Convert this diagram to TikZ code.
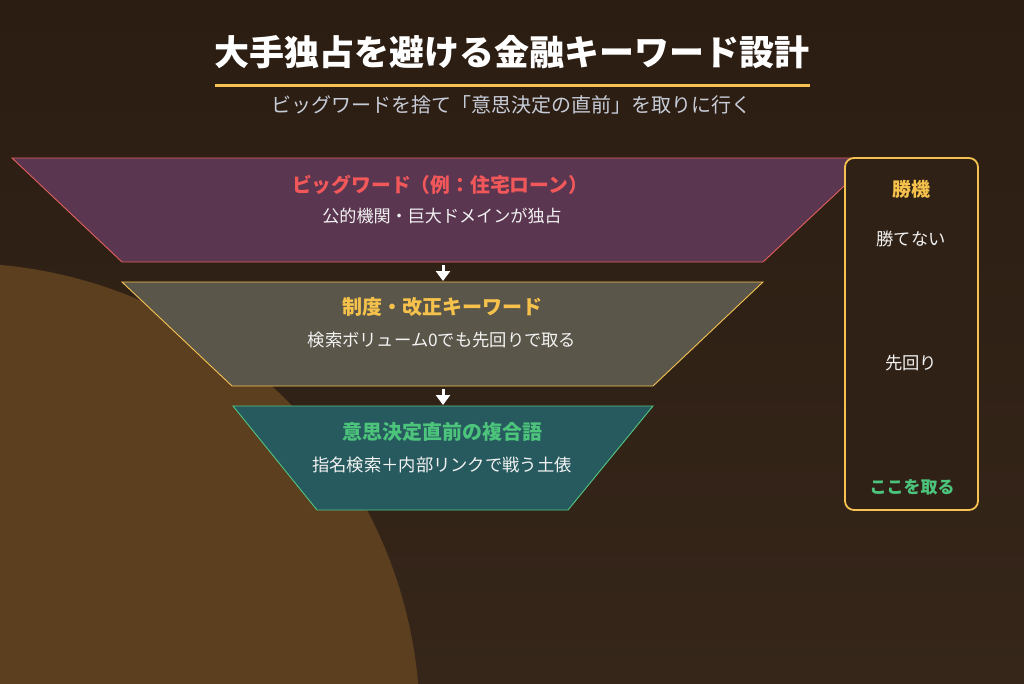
\documentclass[tikz,border=0pt]{standalone}
\usepackage{fontspec}
\setmainfont{Noto Sans CJK JP}
\usetikzlibrary{arrows.meta}
\definecolor{bgtop}{HTML}{2B1D12}
\definecolor{bgbot}{HTML}{36261A}
\definecolor{blob}{HTML}{5C3F1F}
\definecolor{fillA}{HTML}{5A3650}
\definecolor{lineA}{HTML}{E2605C}
\definecolor{fillB}{HTML}{5A564A}
\definecolor{lineB}{HTML}{F5C251}
\definecolor{fillC}{HTML}{275A5E}
\definecolor{lineC}{HTML}{52C482}
\definecolor{txtred}{HTML}{F2585A}
\definecolor{txtorange}{HTML}{F7C24C}
\definecolor{txtgreen}{HTML}{4CC47C}
\definecolor{txtwhite}{HTML}{F2F2F2}
\definecolor{txtgray}{HTML}{C6CCD8}
\definecolor{boxfill}{HTML}{2F2116}
\tikzset{
  x=1pt, y=-1pt,
  fs/.style={font=\fontsize{#1}{#1}\selectfont},
  fsb/.style={font=\fontsize{#1}{#1}\selectfont\bfseries},
  lvl/.style={line width=0.9pt},
  flowarrow/.style={draw=white, line width=3pt, -{Triangle[width=14pt,length=10pt]}, shorten >=0pt},
  sidebox/.style={draw=lineB, line width=1.8pt, fill=boxfill, rounded corners=9pt, minimum width=133pt, minimum height=352pt, inner sep=0pt},
}
\begin{document}
\begin{tikzpicture}
\useasboundingbox (0,0) rectangle (1024,683);
\shade[top color=bgtop, bottom color=bgbot] (0,0) rectangle (1024,683);
\fill[blob] (-42,725) circle (462pt);

% title
\node[fsb=35, text=white] (title) at (512,52) {大手独占を避ける金融キーワード設計};
\draw[line width=3pt, draw=lineB] (215,85) coordinate (ulA) -- (810,85) coordinate (ulB);
\node[fs=20, text=txtgray] (subtitle) at (511,105) {ビッグワードを捨て「意思決定の直前」を取りに行く};

% level 1
\filldraw[lvl, fill=fillA, draw=lineA] (12,158) -- (874,158) -- (763,262) -- (122,262) -- cycle;
\node[fsb=19.8, text=txtred] (t1) at (440,185) {ビッグワード（例：住宅ローン）};
\node[fs=17.1, text=txtwhite] (s1) at (442,216) {公的機関・巨大ドメインが独占};
% level 2
\filldraw[lvl, fill=fillB, draw=lineB] (122,282) -- (763,282) -- (653,386) -- (232,386) -- cycle;
\node[fsb=20, text=txtorange] (t2) at (442,307) {制度・改正キーワード};
\node[fs=17.3, text=txtwhite] (s2) at (442,340) {検索ボリューム0でも先回りで取る};
% level 3
\filldraw[lvl, fill=fillC, draw=lineC] (233,406) -- (653,406) -- (568,510) -- (317,510) -- cycle;
\node[fsb=20, text=txtgreen] (t3) at (442,432) {意思決定直前の複合語};
\node[fs=17.3, text=txtwhite] (s3) at (442,465) {指名検索＋内部リンクで戦う土俵};

% arrows
\coordinate (a1s) at (443,265);
\coordinate (a1e) at (443,281);
\coordinate (a2s) at (443,389);
\coordinate (a2e) at (443,405);
\draw[flowarrow] (a1s) -- (a1e);
\draw[flowarrow] (a2s) -- (a2e);

% side box
\node[sidebox] (box) at (911.5,334) {};
\node[fsb=19, text=txtorange] (b1) at (911,189) {勝機};
\node[fs=17.3, text=txtwhite] (b2) at (911,239) {勝てない};
\node[fs=17.3, text=txtwhite] (b3) at (911,363) {先回り};
\node[fsb=17, text=txtgreen] (b4) at (912,487) {ここを取る};
\end{tikzpicture}
\end{document}
